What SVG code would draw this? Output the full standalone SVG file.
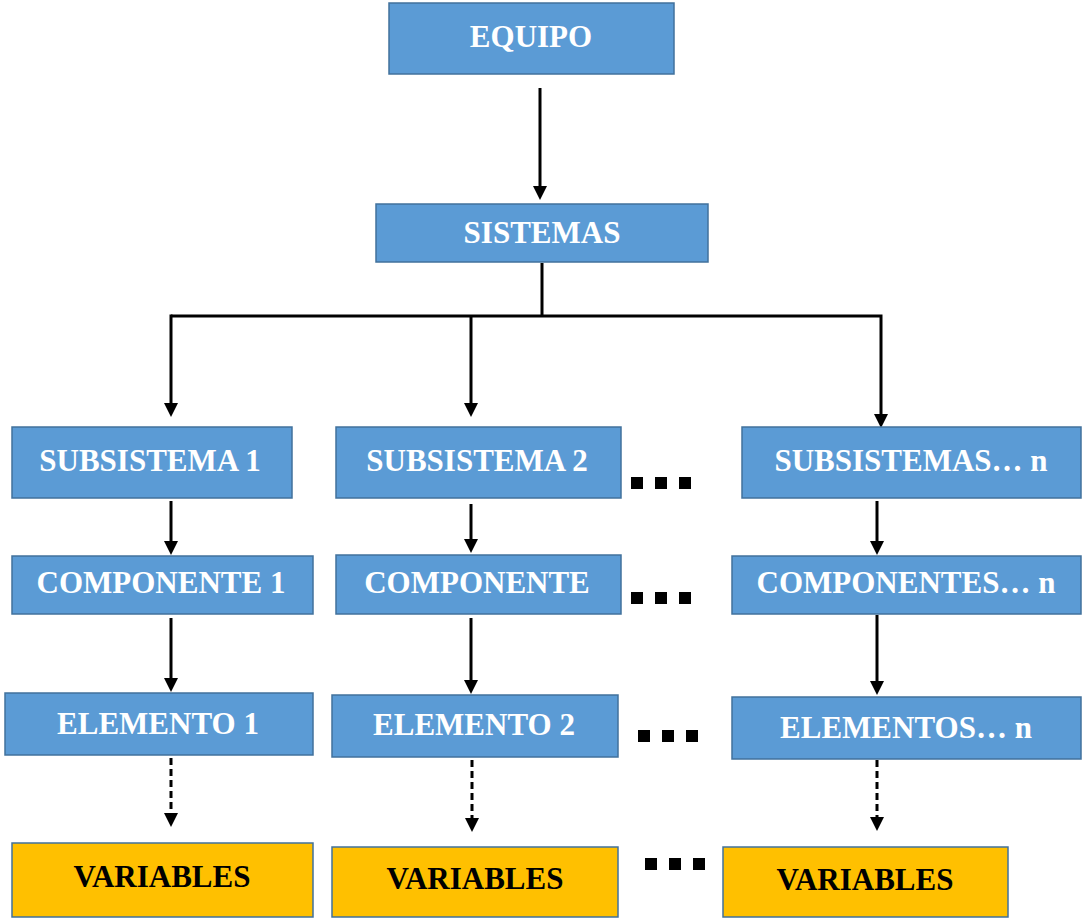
<svg xmlns="http://www.w3.org/2000/svg" width="1082" height="919" viewBox="0 0 1082 919">
<style>
.b{fill:#5B9BD5;stroke:#41719C;stroke-width:1.5}
.y{fill:#FFC000;stroke:#41719C;stroke-width:1.5}
.t{font-family:"Liberation Serif","Times New Roman",serif;font-weight:bold;font-size:31px;text-anchor:middle}
.w{fill:#FFFFFF}
.k{fill:#000000}
.c{fill:none;stroke:#000;stroke-width:3;stroke-linejoin:miter}
.d{fill:none;stroke:#000;stroke-width:3;stroke-dasharray:7 4}
.dot{fill:#000}
</style>
<defs>
<marker id="ah" markerUnits="userSpaceOnUse" markerWidth="16" markerHeight="16" refX="2" refY="8" orient="auto" viewBox="0 0 16 16">
<path d="M0,1 L14,8 L0,15 z" fill="#000"/>
</marker>
</defs>
<g id="connectors">
<path class="c" d="M540,88 V188" marker-end="url(#ah)"/>
<path class="c" d="M542,263 V316"/>
<path class="c" d="M171,316 H881 V416" marker-end="url(#ah)"/>
<path class="c" d="M171,314.5 V405" marker-end="url(#ah)"/>
<path class="c" d="M471,316 V405" marker-end="url(#ah)"/>
<path class="c" d="M171,501 V543" marker-end="url(#ah)"/>
<path class="c" d="M471,504 V541" marker-end="url(#ah)"/>
<path class="c" d="M877,501 V543" marker-end="url(#ah)"/>
<path class="c" d="M171,618 V680" marker-end="url(#ah)"/>
<path class="c" d="M471,618 V682" marker-end="url(#ah)"/>
<path class="c" d="M877,615 V683" marker-end="url(#ah)"/>
<path class="d" d="M171,758 V815" marker-end="url(#ah)"/>
<path class="d" d="M472,760 V820" marker-end="url(#ah)"/>
<path class="d" d="M877,760 V819" marker-end="url(#ah)"/>
</g>
<g id="equipo"><rect class="b" x="389" y="3" width="285" height="71"/><text class="t w" x="531" y="47">EQUIPO</text></g>
<g id="sistemas"><rect class="b" x="376" y="204" width="332" height="58"/><text class="t w" x="542" y="243">SISTEMAS</text></g>
<g id="subsistema1"><rect class="b" x="12" y="427" width="280" height="71"/><text class="t w" x="150" y="471">SUBSISTEMA 1</text></g>
<g id="subsistema2"><rect class="b" x="336" y="427" width="285" height="71"/><text class="t w" x="477" y="471">SUBSISTEMA 2</text></g>
<g id="subsistemasn"><rect class="b" x="742" y="427" width="339" height="71"/><text class="t w" x="911" y="471">SUBSISTEMAS… n</text></g>
<g id="componente1"><rect class="b" x="12" y="556" width="301" height="58"/><text class="t w" x="161" y="593">COMPONENTE 1</text></g>
<g id="componente2"><rect class="b" x="336" y="555" width="285" height="59"/><text class="t w" x="477" y="593">COMPONENTE</text></g>
<g id="componentesn"><rect class="b" x="732" y="556" width="349" height="58"/><text class="t w" x="906" y="593">COMPONENTES… n</text></g>
<g id="elemento1"><rect class="b" x="5" y="693" width="308" height="62"/><text class="t w" x="158" y="734">ELEMENTO 1</text></g>
<g id="elemento2"><rect class="b" x="332" y="695" width="286" height="62"/><text class="t w" x="474" y="735">ELEMENTO 2</text></g>
<g id="elementosn"><rect class="b" x="732" y="697" width="349" height="62"/><text class="t w" x="906" y="738">ELEMENTOS… n</text></g>
<g id="variables1"><rect class="y" x="12" y="843" width="301" height="74"/><text class="t k" x="162" y="887">VARIABLES</text></g>
<g id="variables2"><rect class="y" x="332" y="847" width="286" height="70"/><text class="t k" x="475" y="889">VARIABLES</text></g>
<g id="variables3"><rect class="y" x="723" y="847" width="285" height="70"/><text class="t k" x="865" y="890">VARIABLES</text></g>
<g id="ellipses">
<rect class="dot" x="631" y="477" width="12" height="12"/><rect class="dot" x="655" y="477" width="12" height="12"/><rect class="dot" x="679" y="477" width="12" height="12"/>
<rect class="dot" x="631" y="592" width="12" height="12"/><rect class="dot" x="655" y="592" width="12" height="12"/><rect class="dot" x="679" y="592" width="12" height="12"/>
<rect class="dot" x="638" y="730" width="12" height="12"/><rect class="dot" x="662" y="730" width="12" height="12"/><rect class="dot" x="686" y="730" width="12" height="12"/>
<rect class="dot" x="645" y="858" width="12" height="12"/><rect class="dot" x="669" y="858" width="12" height="12"/><rect class="dot" x="693" y="858" width="12" height="12"/>
</g>
</svg>
